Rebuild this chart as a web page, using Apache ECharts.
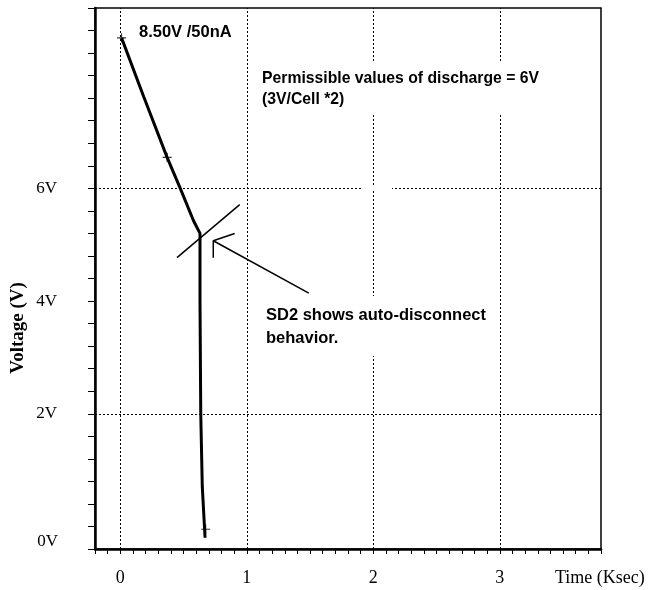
<!DOCTYPE html>
<html>
<head>
<meta charset="utf-8">
<script src="https://cdn.jsdelivr.net/npm/echarts@6/dist/echarts.min.js"></script>
<style>
html,body{margin:0;padding:0;background:#fff;}
#chart{width:653px;height:590px;}
</style>
</head>
<body>
<div id="chart"></div>
<script>
// ---- data ----
const curveX = [0.01, 0.186, 0.37, 0.474, 0.578, 0.63, 0.63, 0.636, 0.648, 0.67];
const curveY = [8.67, 7.62, 6.55, 6.0, 5.43, 5.2, 4.02, 2.0, 0.71, -0.2];
const markerX = [0.01, 0.37, 0.675];
const markerY = [8.67, 6.55, -0.05];
const crossX = [0.448, 0.944];
const crossY = [4.77, 5.71];
const arrowShaftX = [0.735, 1.49];
const arrowShaftY = [5.07, 4.14];
const arrowHeadX = [0.904, 0.735, 0.735];
const arrowHeadY = [5.2, 5.07, 4.77];
const xGridValues = [0, 1, 2, 3];
const yGridValues = [2, 6];
const xTickLabels = ['0', '1', '2', '3'];
const yTickLabels = ['2V', '4V', '6V'];
const yTickValues = [2, 4, 6];

const zip = (a, b) => a.map((v, i) => [v, b[i]]);
const serif = '"Liberation Serif", "Times New Roman", serif';
const sans = '"Liberation Sans", Arial, sans-serif';

const chart = echarts.init(document.getElementById('chart'), null, {renderer: 'canvas'});
const dash = {color: '#000', width: 1, type: [2, 2]};

const option = {
  animation: false,
  backgroundColor: '#fff',
  grid: {left: 95, right: 52, top: 8, bottom: 41, show: true, borderColor: '#000', borderWidth: 1.5, backgroundColor: 'transparent'},
  xAxis: {
    type: 'value', min: -0.2, max: 3.8, interval: 0.1,
    axisLine: {show: true, onZero: false, lineStyle: {color: '#000', width: 2.5}},
    axisTick: {show: true, length: 5, lineStyle: {color: '#000', width: 1}},
    splitLine: {show: false},
    axisLabel: {
      margin: 20, color: '#000', fontFamily: serif, fontSize: 18,
      formatter: v => {
        const i = xGridValues.findIndex(g => Math.abs(g - v) < 1e-6);
        return i >= 0 ? xTickLabels[i] : '';
      }
    },
    name: 'Time (Ksec)', nameLocation: 'end', nameGap: -46,
    nameTextStyle: {color: '#000', fontFamily: serif, fontSize: 18, align: 'left', verticalAlign: 'top', padding: [20, 0, 0, 0]}
  },
  yAxis: {
    type: 'value', min: -0.4, max: 9.2, interval: 0.4,
    axisLine: {show: true, onZero: false, lineStyle: {color: '#000', width: 2.5}},
    axisTick: {show: true, length: 7, lineStyle: {color: '#000', width: 1}},
    splitLine: {show: false},
    axisLabel: {
      margin: 38, color: '#000', fontFamily: serif, fontSize: 17,
      formatter: v => {
        const i = yTickValues.findIndex(g => Math.abs(g - v) < 1e-6);
        return i >= 0 ? yTickLabels[i] : '';
      }
    }
  },
  series: [
    {
      type: 'line', data: zip(curveX, curveY), symbol: 'none', smooth: false,
      lineStyle: {color: '#000', width: 3}, z: 5,
      markLine: {
        silent: true, symbol: 'none', label: {show: false}, lineStyle: dash,
        data: xGridValues.map(v => ({xAxis: v})).concat(yGridValues.map(v => ({yAxis: v})))
      }
    },
    {type: 'line', data: zip(crossX, crossY), symbol: 'none', lineStyle: {color: '#000', width: 1.5}, z: 5},
    {type: 'line', data: zip(arrowShaftX, arrowShaftY), symbol: 'none', lineStyle: {color: '#000', width: 1.5}, z: 5},
    {type: 'line', data: zip(arrowHeadX, arrowHeadY), symbol: 'none', lineStyle: {color: '#000', width: 1.5}, z: 5},
    {
      type: 'scatter', data: zip(markerX, markerY), z: 6,
      symbol: 'path://M0,4.4H10V5.6H0Z M4.4,0H5.6V10H4.4Z', symbolSize: 9,
      itemStyle: {color: '#000'}
    }
  ],
  graphic: [
    {type: 'text', z: 100, x: 18, y: 328, rotation: Math.PI / 2,
      style: {text: 'Voltage (V)', fill: '#000', font: 'bold 19px ' + serif, align: 'center', verticalAlign: 'middle'}},
    {type: 'text', z: 100, x: 58, y: 542,
      style: {text: '0V', fill: '#000', font: '17px ' + serif, align: 'right', verticalAlign: 'middle'}},
    {type: 'text', z: 100, x: 139, y: 32,
      style: {text: '8.50V /50nA', fill: '#000', font: 'bold 16.5px ' + sans, align: 'left', verticalAlign: 'middle'}},
    {type: 'text', z: 100, x: 256, y: 63,
      style: {text: 'Permissible values of discharge = 6V\n(3V/Cell *2)', fill: '#000', font: 'bold 15.75px ' + sans,
        lineHeight: 21, align: 'left', verticalAlign: 'top', backgroundColor: '#fff', padding: [5, 8, 5, 6]}},
    {type: 'text', z: 100, x: 260, y: 296,
      style: {text: 'SD2 shows auto-disconnect\nbehavior.', fill: '#000', font: 'bold 16.5px ' + sans,
        lineHeight: 23, align: 'left', verticalAlign: 'top', backgroundColor: '#fff', padding: [8, 6, 6, 6]}},
    {type: 'rect', z: 100, shape: {x: 363, y: 185, width: 29, height: 6}, style: {fill: '#fff'}}
  ]
};
chart.setOption(option);
</script>
</body>
</html>
